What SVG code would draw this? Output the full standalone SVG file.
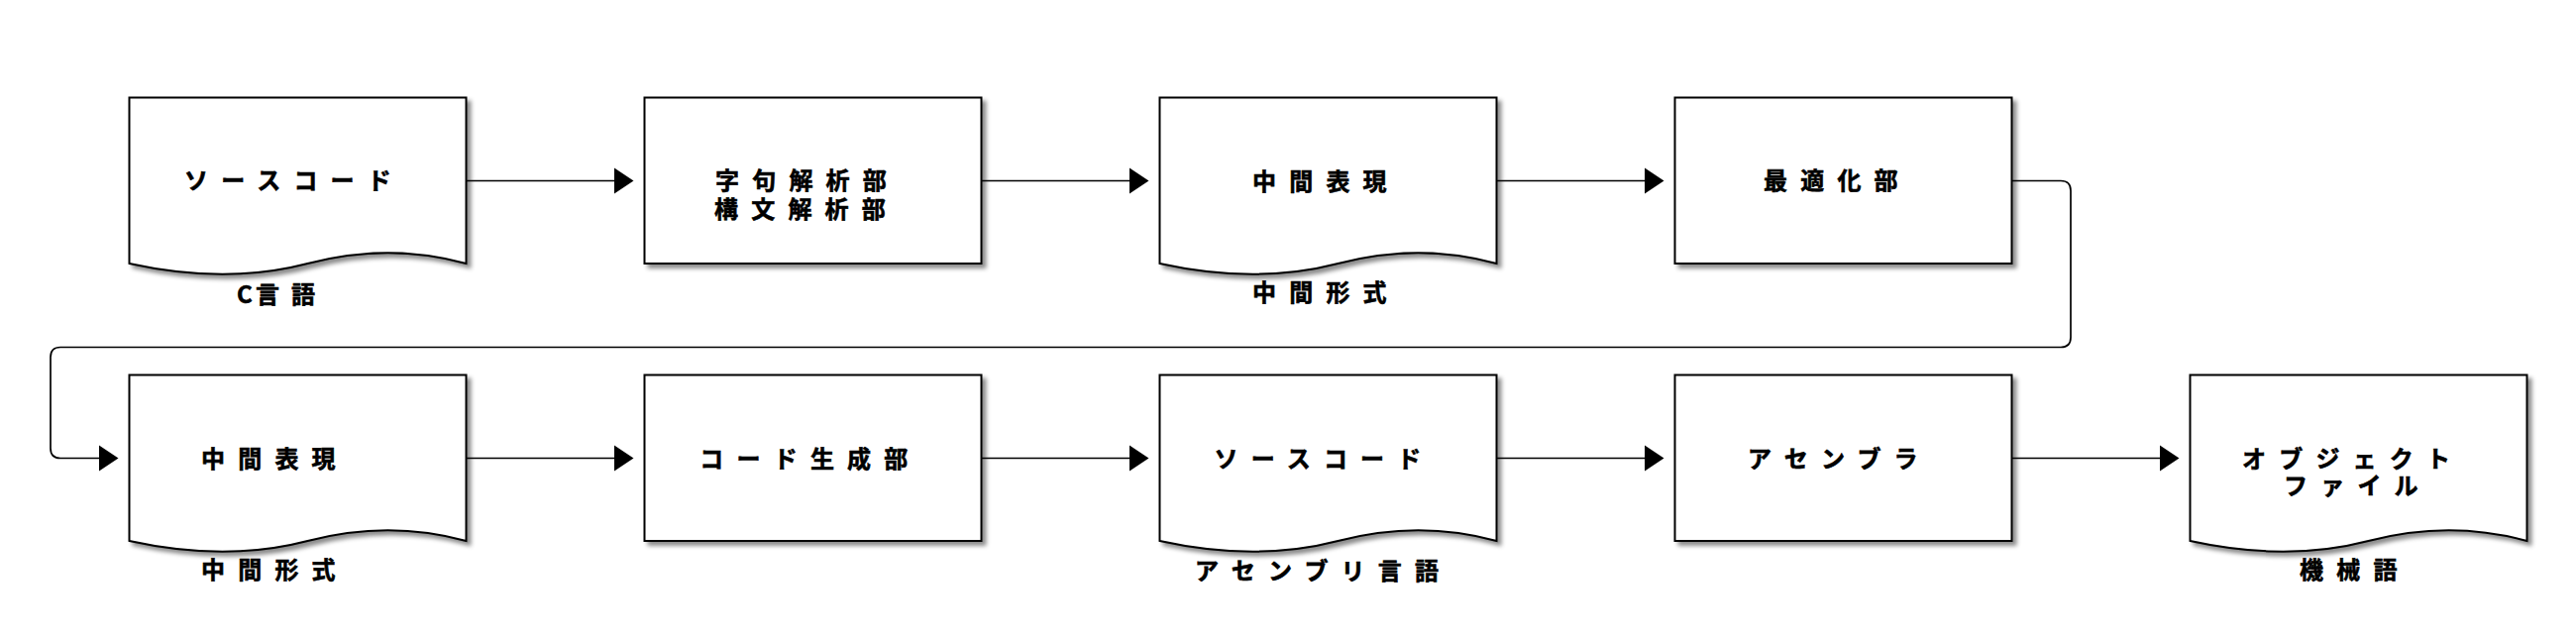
<svg xmlns="http://www.w3.org/2000/svg" xmlns:xlink="http://www.w3.org/1999/xlink" width="2600" height="644" viewBox="0 0 2600 644">
<style>
.shape{fill:#fff;stroke:#000;stroke-width:2;filter:url(#sh)}
.t{font-family:"Noto Sans CJK JP","Noto Sans",sans-serif;font-weight:bold;font-size:24px;letter-spacing:13.2px;fill:#000;stroke:#000;stroke-width:0.6px}
.c{fill:none;stroke:#000;stroke-width:1.7}
</style>
<defs>
<filter id="sh" x="-10%" y="-10%" width="125%" height="130%">
<feDropShadow dx="4" dy="4" stdDeviation="2.2" flood-color="#000" flood-opacity="0.45"/>
</filter>
<path id="doc" d="M0,0 H340 V167.5 Q262,146 180,167.5 T0,167.5 Z"/>
<rect id="box" x="0" y="0" width="340" height="167.5"/>
<marker id="arr" markerUnits="userSpaceOnUse" markerWidth="21" markerHeight="28" viewBox="0 0 21 28" refX="10" refY="14" orient="auto">
<path d="M0,0.7 L20,14 L0,27.3 Z" fill="#000"/>
</marker>
</defs>
<rect width="2600" height="644" fill="#fff"/>
<g id="connectors">
<path class="c" marker-end="url(#arr)" d="M470.5,182.5 H629.5"/>
<path class="c" marker-end="url(#arr)" d="M990.5,182.5 H1149.5"/>
<path class="c" marker-end="url(#arr)" d="M1510.5,182.5 H1669.5"/>
<path class="c" marker-end="url(#arr)" d="M2030.5,182.5 H2080 Q2090,182.5 2090,192.5 V340.5 Q2090,350.5 2080,350.5 H61 Q51,350.5 51,360.5 V452.5 Q51,462.5 61,462.5 H109.5"/>
<path class="c" marker-end="url(#arr)" d="M470.5,462.5 H629.5"/>
<path class="c" marker-end="url(#arr)" d="M990.5,462.5 H1149.5"/>
<path class="c" marker-end="url(#arr)" d="M1510.5,462.5 H1669.5"/>
<path class="c" marker-end="url(#arr)" d="M2030.5,462.5 H2189.5"/>
</g>
<g id="n1">
<use xlink:href="#doc" href="#doc" class="shape" x="130.5" y="98.5"/>
<text class="t" x="186" y="191">ソースコード</text>
<text class="t" y="305.5" style="letter-spacing:0"><tspan x="239">C</tspan><tspan x="258">言</tspan><tspan x="294">語</tspan></text>
</g>
<g id="n2">
<use xlink:href="#box" href="#box" class="shape" x="650.5" y="98.5"/>
<text class="t"><tspan x="722" y="190.7">字句解析部</tspan><tspan x="721" y="219.8">構文解析部</tspan></text>
</g>
<g id="n3">
<use xlink:href="#doc" href="#doc" class="shape" x="1170.5" y="98.5"/>
<text class="t" x="1264" y="192">中間表現</text>
<text class="t" x="1264" y="304">中間形式</text>
</g>
<g id="n4">
<use xlink:href="#box" href="#box" class="shape" x="1690.5" y="98.5"/>
<text class="t" x="1780" y="190.7">最適化部</text>
</g>
<g id="n5">
<use xlink:href="#doc" href="#doc" class="shape" x="130.5" y="378.5"/>
<text class="t" x="203" y="472">中間表現</text>
<text class="t" x="203" y="583.5">中間形式</text>
</g>
<g id="n6">
<use xlink:href="#box" href="#box" class="shape" x="650.5" y="378.5"/>
<text class="t" x="706.3" y="472">コード生成部</text>
</g>
<g id="n7">
<use xlink:href="#doc" href="#doc" class="shape" x="1170.5" y="378.5"/>
<text class="t" x="1225.5" y="472">ソースコード</text>
<text class="t" x="1206" y="584.5">アセンブリ言語</text>
</g>
<g id="n8">
<use xlink:href="#box" href="#box" class="shape" x="1690.5" y="378.5"/>
<text class="t" x="1764" y="472">アセンブラ</text>
</g>
<g id="n9">
<use xlink:href="#doc" href="#doc" class="shape" x="2210.5" y="378.5"/>
<text class="t"><tspan x="2263" y="471.5">オブジェクト</tspan><tspan x="2305" y="499">ファイル</tspan></text>
<text class="t" x="2321" y="583.5">機械語</text>
</g>
</svg>
